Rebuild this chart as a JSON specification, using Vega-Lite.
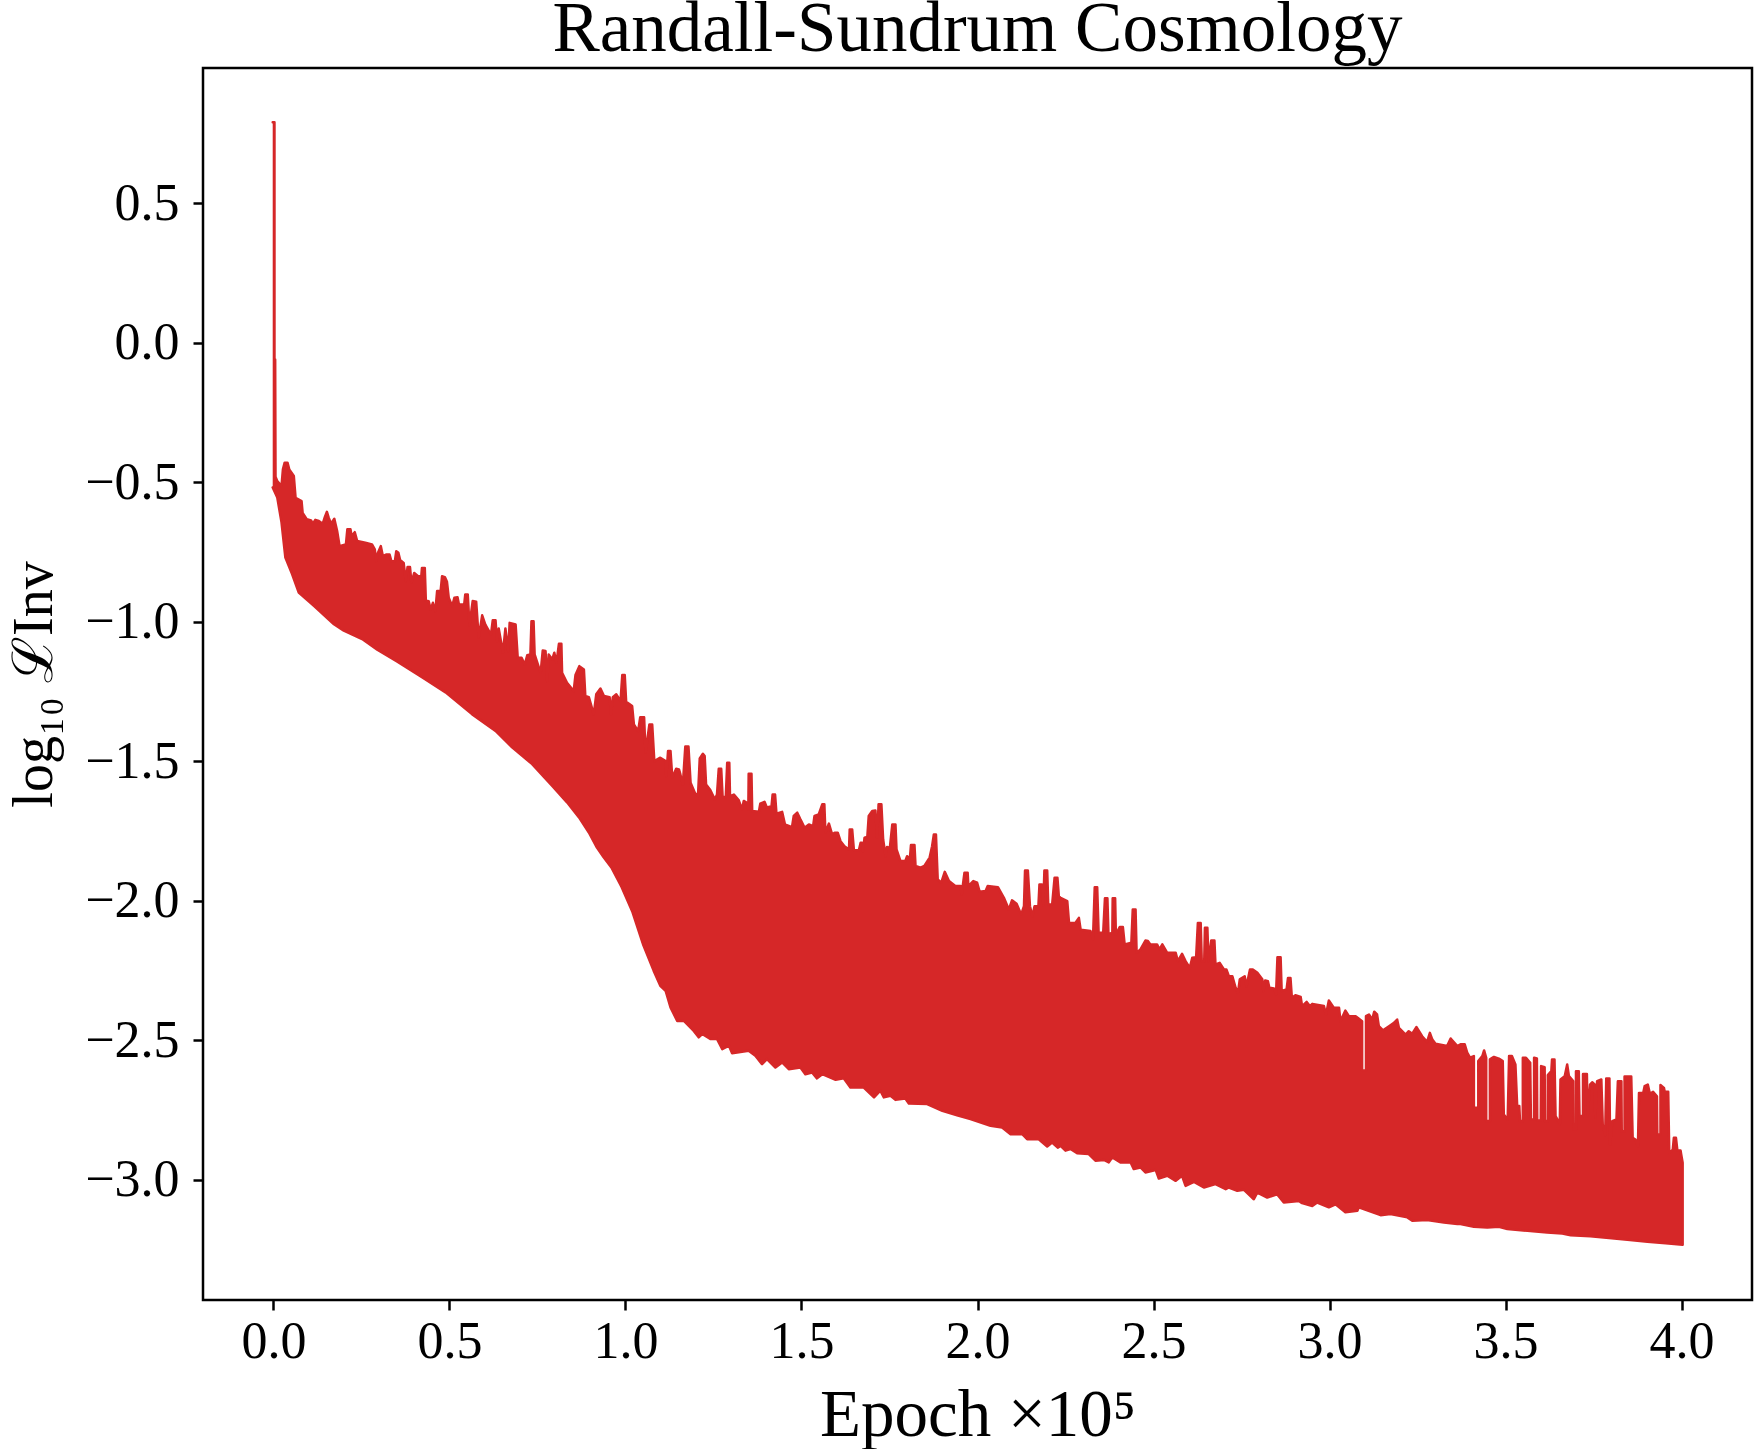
{
  "$schema": "https://vega.github.io/schema/vega-lite/v6.json",
  "title": {"text": "Randall-Sundrum Cosmology", "fontSize": 71, "font": "Liberation Serif", "fontWeight": "normal", "color": "black", "anchor": "middle", "baseline": "alphabetic", "offset": 16, "dy": 70},
  "width": 1549,
  "height": 1232,
  "autosize": {"type": "none"},
  "padding": {"left": 203, "top": 68, "right": 2, "bottom": 149},
  "background": "white",
  "config": {"view": {"stroke": "black", "strokeWidth": 2.5}},
  "data": {"values": [
{"epoch":-0.002,"loss":0.79},{"epoch":0.003,"loss":0.79},{"epoch":0.003,"loss":-0.06},{"epoch":0.005,"loss":-0.06},{"epoch":0.006,"loss":-0.48},
{"epoch":0.011,"loss":-0.496},{"epoch":0.023,"loss":-0.514},{"epoch":0.027,"loss":-0.454},{"epoch":0.032,"loss":-0.43},{"epoch":0.04,"loss":-0.43},{"epoch":0.045,"loss":-0.454},{"epoch":0.058,"loss":-0.478},{"epoch":0.063,"loss":-0.556},{"epoch":0.08,"loss":-0.568},{"epoch":0.083,"loss":-0.61},{"epoch":0.095,"loss":-0.633},{"epoch":0.107,"loss":-0.637},{"epoch":0.112,"loss":-0.649},{"epoch":0.119,"loss":-0.635},{"epoch":0.129,"loss":-0.639},{"epoch":0.14,"loss":-0.649},{"epoch":0.146,"loss":-0.625},{"epoch":0.152,"loss":-0.606},{"epoch":0.157,"loss":-0.627},{"epoch":0.164,"loss":-0.649},{"epoch":0.173,"loss":-0.631},{"epoch":0.181,"loss":-0.675},{"epoch":0.188,"loss":-0.729},{"epoch":0.2,"loss":-0.725},{"epoch":0.206,"loss":-0.723},{"epoch":0.21,"loss":-0.669},{"epoch":0.219,"loss":-0.669},{"epoch":0.222,"loss":-0.693},{"epoch":0.231,"loss":-0.679},{"epoch":0.238,"loss":-0.711},{"epoch":0.261,"loss":-0.717},{"epoch":0.28,"loss":-0.723},{"epoch":0.288,"loss":-0.741},{"epoch":0.292,"loss":-0.783},{"epoch":0.297,"loss":-0.753},{"epoch":0.305,"loss":-0.729},{"epoch":0.311,"loss":-0.765},{"epoch":0.32,"loss":-0.759},{"epoch":0.33,"loss":-0.759},{"epoch":0.335,"loss":-0.783},{"epoch":0.345,"loss":-0.783},{"epoch":0.349,"loss":-0.747},{"epoch":0.355,"loss":-0.753},{"epoch":0.36,"loss":-0.779},{"epoch":0.37,"loss":-0.789},{"epoch":0.376,"loss":-0.854},{"epoch":0.381,"loss":-0.804},{"epoch":0.388,"loss":-0.804},{"epoch":0.392,"loss":-0.86},{"epoch":0.4,"loss":-0.825},{"epoch":0.411,"loss":-0.837},{"epoch":0.42,"loss":-0.837},{"epoch":0.422,"loss":-0.807},{"epoch":0.43,"loss":-0.807},{"epoch":0.433,"loss":-0.924},{"epoch":0.441,"loss":-0.926},{"epoch":0.447,"loss":-0.956},{"epoch":0.453,"loss":-0.932},{"epoch":0.46,"loss":-0.962},{"epoch":0.465,"loss":-0.89},{"epoch":0.475,"loss":-0.89},{"epoch":0.479,"loss":-0.837},{"epoch":0.487,"loss":-0.84},{"epoch":0.493,"loss":-0.857},{"epoch":0.498,"loss":-0.914},{"epoch":0.508,"loss":-0.944},{"epoch":0.514,"loss":-0.914},{"epoch":0.523,"loss":-0.912},{"epoch":0.527,"loss":-0.938},{"epoch":0.542,"loss":-0.938},{"epoch":0.545,"loss":-0.902},{"epoch":0.552,"loss":-0.902},{"epoch":0.557,"loss":-1.012},{"epoch":0.566,"loss":-0.926},{"epoch":0.576,"loss":-0.928},{"epoch":0.583,"loss":-1.057},{"epoch":0.593,"loss":-0.977},{"epoch":0.602,"loss":-1.01},{"epoch":0.618,"loss":-1.046},{"epoch":0.623,"loss":-0.995},{"epoch":0.631,"loss":-0.995},{"epoch":0.635,"loss":-1.069},{"epoch":0.64,"loss":-1.024},{"epoch":0.652,"loss":-1.111},{"epoch":0.659,"loss":-1.024},{"epoch":0.667,"loss":-1.105},{"epoch":0.671,"loss":-1.004},{"epoch":0.688,"loss":-1.01},{"epoch":0.694,"loss":-1.129},{"epoch":0.705,"loss":-1.129},{"epoch":0.714,"loss":-1.153},{"epoch":0.721,"loss":-1.12},{"epoch":0.73,"loss":-1.117},{"epoch":0.733,"loss":-0.998},{"epoch":0.739,"loss":-0.998},{"epoch":0.742,"loss":-1.117},{"epoch":0.759,"loss":-1.183},{"epoch":0.765,"loss":-1.103},{"epoch":0.773,"loss":-1.105},{"epoch":0.778,"loss":-1.213},{"epoch":0.782,"loss":-1.117},{"epoch":0.792,"loss":-1.135},{"epoch":0.798,"loss":-1.111},{"epoch":0.804,"loss":-1.147},{"epoch":0.811,"loss":-1.079},{"epoch":0.818,"loss":-1.079},{"epoch":0.82,"loss":-1.183},{"epoch":0.834,"loss":-1.219},{"epoch":0.853,"loss":-1.248},{"epoch":0.858,"loss":-1.191},{"epoch":0.869,"loss":-1.159},{"epoch":0.882,"loss":-1.171},{"epoch":0.886,"loss":-1.266},{"epoch":0.896,"loss":-1.27},{"epoch":0.91,"loss":-1.332},{"epoch":0.917,"loss":-1.26},{"epoch":0.929,"loss":-1.239},{"epoch":0.939,"loss":-1.266},{"epoch":0.955,"loss":-1.27},{"epoch":0.959,"loss":-1.332},{"epoch":0.964,"loss":-1.27},{"epoch":0.974,"loss":-1.26},{"epoch":0.986,"loss":-1.284},{"epoch":0.991,"loss":-1.191},{"epoch":0.998,"loss":-1.191},{"epoch":1.002,"loss":-1.287},{"epoch":1.019,"loss":-1.302},{"epoch":1.024,"loss":-1.368},{"epoch":1.036,"loss":-1.392},{"epoch":1.042,"loss":-1.342},{"epoch":1.053,"loss":-1.342},{"epoch":1.057,"loss":-1.469},{"epoch":1.068,"loss":-1.368},{"epoch":1.076,"loss":-1.368},{"epoch":1.082,"loss":-1.499},{"epoch":1.099,"loss":-1.487},
{"epoch":1.114,"loss":-1.499},{"epoch":1.116,"loss":-1.553},{"epoch":1.121,"loss":-1.463},{"epoch":1.128,"loss":-1.463},{"epoch":1.133,"loss":-1.559},{"epoch":1.144,"loss":-1.527},{"epoch":1.152,"loss":-1.529},{"epoch":1.156,"loss":-1.547},{"epoch":1.163,"loss":-1.583},{"epoch":1.17,"loss":-1.447},{"epoch":1.179,"loss":-1.447},{"epoch":1.185,"loss":-1.577},{"epoch":1.197,"loss":-1.613},{"epoch":1.206,"loss":-1.625},{"epoch":1.211,"loss":-1.49},{"epoch":1.22,"loss":-1.473},{"epoch":1.225,"loss":-1.481},{"epoch":1.229,"loss":-1.583},{"epoch":1.241,"loss":-1.603},{"epoch":1.254,"loss":-1.637},{"epoch":1.26,"loss":-1.619},{"epoch":1.265,"loss":-1.527},{"epoch":1.272,"loss":-1.527},{"epoch":1.276,"loss":-1.628},{"epoch":1.285,"loss":-1.628},{"epoch":1.289,"loss":-1.505},{"epoch":1.295,"loss":-1.505},{"epoch":1.297,"loss":-1.625},{"epoch":1.308,"loss":-1.619},{"epoch":1.322,"loss":-1.64},{"epoch":1.331,"loss":-1.672},{"epoch":1.336,"loss":-1.642},{"epoch":1.344,"loss":-1.648},{"epoch":1.349,"loss":-1.672},{"epoch":1.35,"loss":-1.545},{"epoch":1.358,"loss":-1.545},{"epoch":1.36,"loss":-1.678},{"epoch":1.379,"loss":-1.681},{"epoch":1.383,"loss":-1.652},{"epoch":1.395,"loss":-1.645},{"epoch":1.402,"loss":-1.666},{"epoch":1.415,"loss":-1.66},{"epoch":1.418,"loss":-1.619},{"epoch":1.425,"loss":-1.619},{"epoch":1.429,"loss":-1.688},{"epoch":1.445,"loss":-1.681},{"epoch":1.453,"loss":-1.726},{"epoch":1.473,"loss":-1.736},{"epoch":1.478,"loss":-1.696},{"epoch":1.488,"loss":-1.684},{"epoch":1.497,"loss":-1.708},{"epoch":1.509,"loss":-1.738},{"epoch":1.521,"loss":-1.726},{"epoch":1.533,"loss":-1.732},{"epoch":1.537,"loss":-1.696},{"epoch":1.549,"loss":-1.69},{"epoch":1.559,"loss":-1.654},{"epoch":1.565,"loss":-1.654},{"epoch":1.568,"loss":-1.756},{"epoch":1.578,"loss":-1.723},{"epoch":1.587,"loss":-1.762},{"epoch":1.594,"loss":-1.756},{"epoch":1.603,"loss":-1.756},{"epoch":1.611,"loss":-1.786},{"epoch":1.622,"loss":-1.804},{"epoch":1.635,"loss":-1.816},{"epoch":1.637,"loss":-1.744},{"epoch":1.644,"loss":-1.744},{"epoch":1.649,"loss":-1.819},{"epoch":1.663,"loss":-1.819},{"epoch":1.668,"loss":-1.792},{"epoch":1.672,"loss":-1.792},{"epoch":1.675,"loss":-1.822},{"epoch":1.679,"loss":-1.774},{"epoch":1.687,"loss":-1.771},{"epoch":1.691,"loss":-1.696},{"epoch":1.701,"loss":-1.678},{"epoch":1.71,"loss":-1.676},{"epoch":1.715,"loss":-1.774},{"epoch":1.719,"loss":-1.654},{"epoch":1.727,"loss":-1.654},{"epoch":1.732,"loss":-1.78},{"epoch":1.739,"loss":-1.84},{"epoch":1.743,"loss":-1.807},{"epoch":1.751,"loss":-1.81},{"epoch":1.758,"loss":-1.726},{"epoch":1.767,"loss":-1.726},{"epoch":1.77,"loss":-1.816},{"epoch":1.781,"loss":-1.857},{"epoch":1.795,"loss":-1.857},{"epoch":1.8,"loss":-1.84},{"epoch":1.808,"loss":-1.848},{"epoch":1.811,"loss":-1.8},{"epoch":1.821,"loss":-1.8},{"epoch":1.824,"loss":-1.875},{"epoch":1.838,"loss":-1.881},{"epoch":1.849,"loss":-1.875},{"epoch":1.864,"loss":-1.845},{"epoch":1.871,"loss":-1.804},{"epoch":1.876,"loss":-1.762},{"epoch":1.882,"loss":-1.762},{"epoch":1.887,"loss":-1.923},{"epoch":1.897,"loss":-1.935},{"epoch":1.907,"loss":-1.896},{"epoch":1.919,"loss":-1.929},{"epoch":1.937,"loss":-1.947},{"epoch":1.952,"loss":-1.947},{"epoch":1.955,"loss":-1.977},{"epoch":1.963,"loss":-1.899},{"epoch":1.972,"loss":-1.899},{"epoch":1.974,"loss":-1.947},{"epoch":1.988,"loss":-1.929},{"epoch":1.999,"loss":-1.935},{"epoch":2.006,"loss":-1.967},{"epoch":2.023,"loss":-1.965},{"epoch":2.029,"loss":-1.947},{"epoch":2.058,"loss":-1.951},{"epoch":2.075,"loss":-1.989},{"epoch":2.089,"loss":-2.031},{"epoch":2.098,"loss":-1.998},{"epoch":2.111,"loss":-2.01},{"epoch":2.124,"loss":-2.049},{"epoch":2.132,"loss":-2.019},{"epoch":2.135,"loss":-1.891},{"epoch":2.143,"loss":-1.891},{"epoch":2.149,"loss":-2.019},{"epoch":2.156,"loss":-2.055},{"epoch":2.162,"loss":-2.019},{"epoch":2.173,"loss":-2.019},{"epoch":2.176,"loss":-1.941},{"epoch":2.183,"loss":-1.941},{"epoch":2.187,"loss":-2.015},{"epoch":2.19,"loss":-1.891},{"epoch":2.198,"loss":-1.891},{"epoch":2.201,"loss":-2.013},{"epoch":2.212,"loss":-2.013},{"epoch":2.219,"loss":-1.917},{"epoch":2.227,"loss":-1.917},{"epoch":2.231,"loss":-1.983},
{"epoch":2.236,"loss":-1.989},{"epoch":2.255,"loss":-2.001},{"epoch":2.26,"loss":-2.079},{"epoch":2.278,"loss":-2.079},{"epoch":2.288,"loss":-2.061},{"epoch":2.293,"loss":-2.103},{"epoch":2.321,"loss":-2.108},{"epoch":2.328,"loss":-2.138},{"epoch":2.333,"loss":-1.951},{"epoch":2.34,"loss":-1.951},{"epoch":2.344,"loss":-2.114},{"epoch":2.357,"loss":-2.114},{"epoch":2.362,"loss":-1.991},{"epoch":2.369,"loss":-1.991},{"epoch":2.372,"loss":-2.12},{"epoch":2.383,"loss":-2.114},{"epoch":2.384,"loss":-1.991},{"epoch":2.391,"loss":-1.991},{"epoch":2.393,"loss":-2.12},{"epoch":2.404,"loss":-2.094},{"epoch":2.413,"loss":-2.094},{"epoch":2.418,"loss":-2.156},{"epoch":2.437,"loss":-2.15},{"epoch":2.441,"loss":-2.031},{"epoch":2.449,"loss":-2.031},{"epoch":2.452,"loss":-2.186},{"epoch":2.463,"loss":-2.174},{"epoch":2.477,"loss":-2.142},{"epoch":2.484,"loss":-2.144},{"epoch":2.491,"loss":-2.156},{"epoch":2.51,"loss":-2.156},{"epoch":2.517,"loss":-2.174},{"epoch":2.525,"loss":-2.156},{"epoch":2.539,"loss":-2.186},{"epoch":2.563,"loss":-2.186},{"epoch":2.569,"loss":-2.216},{"epoch":2.581,"loss":-2.19},{"epoch":2.591,"loss":-2.216},{"epoch":2.603,"loss":-2.24},{"epoch":2.61,"loss":-2.204},{"epoch":2.621,"loss":-2.202},{"epoch":2.626,"loss":-2.079},{"epoch":2.634,"loss":-2.079},{"epoch":2.637,"loss":-2.216},{"epoch":2.644,"loss":-2.216},{"epoch":2.646,"loss":-2.096},{"epoch":2.653,"loss":-2.096},{"epoch":2.656,"loss":-2.216},{"epoch":2.664,"loss":-2.142},{"epoch":2.673,"loss":-2.142},{"epoch":2.676,"loss":-2.228},{"epoch":2.688,"loss":-2.222},{"epoch":2.7,"loss":-2.246},{"epoch":2.707,"loss":-2.246},{"epoch":2.714,"loss":-2.27},{"epoch":2.724,"loss":-2.27},{"epoch":2.733,"loss":-2.311},{"epoch":2.74,"loss":-2.329},{"epoch":2.745,"loss":-2.281},{"epoch":2.759,"loss":-2.27},{"epoch":2.764,"loss":-2.306},{"epoch":2.774,"loss":-2.246},{"epoch":2.782,"loss":-2.246},{"epoch":2.795,"loss":-2.258},{"epoch":2.809,"loss":-2.281},{"epoch":2.812,"loss":-2.323},{"epoch":2.817,"loss":-2.285},{"epoch":2.825,"loss":-2.288},{"epoch":2.829,"loss":-2.311},{"epoch":2.842,"loss":-2.314},{"epoch":2.848,"loss":-2.335},{"epoch":2.852,"loss":-2.202},{"epoch":2.861,"loss":-2.202},{"epoch":2.864,"loss":-2.323},{"epoch":2.878,"loss":-2.317},{"epoch":2.882,"loss":-2.276},{"epoch":2.889,"loss":-2.276},{"epoch":2.893,"loss":-2.347},{"epoch":2.903,"loss":-2.338},{"epoch":2.918,"loss":-2.344},{"epoch":2.922,"loss":-2.377},{"epoch":2.935,"loss":-2.362},{"epoch":2.944,"loss":-2.377},{"epoch":2.951,"loss":-2.369},{"epoch":2.984,"loss":-2.377},{"epoch":2.99,"loss":-2.407},{"epoch":2.998,"loss":-2.357},{"epoch":3.012,"loss":-2.383},{"epoch":3.027,"loss":-2.383},{"epoch":3.031,"loss":-2.431},{"epoch":3.045,"loss":-2.393},{"epoch":3.055,"loss":-2.413},{"epoch":3.074,"loss":-2.413},{"epoch":3.0925,"loss":-2.431},{"epoch":3.0925,"loss":-2.608},{"epoch":3.1035,"loss":-2.608},{"epoch":3.1035,"loss":-2.413},{"epoch":3.112,"loss":-2.407},{"epoch":3.121,"loss":-2.425},{"epoch":3.127,"loss":-2.397},{"epoch":3.135,"loss":-2.407},{"epoch":3.14,"loss":-2.449},{"epoch":3.152,"loss":-2.464},{"epoch":3.169,"loss":-2.449},{"epoch":3.183,"loss":-2.437},{"epoch":3.192,"loss":-2.425},{"epoch":3.197,"loss":-2.455},{"epoch":3.216,"loss":-2.479},{"epoch":3.225,"loss":-2.467},{"epoch":3.235,"loss":-2.476},{"epoch":3.247,"loss":-2.452},{"epoch":3.263,"loss":-2.485},{"epoch":3.277,"loss":-2.505},{"epoch":3.285,"loss":-2.473},{"epoch":3.292,"loss":-2.497},{"epoch":3.301,"loss":-2.512},{"epoch":3.334,"loss":-2.52},{"epoch":3.344,"loss":-2.493},{"epoch":3.363,"loss":-2.52},
{"epoch":3.372,"loss":-2.514},{"epoch":3.384,"loss":-2.514},{"epoch":3.391,"loss":-2.544},{"epoch":3.399,"loss":-2.562},{"epoch":3.41,"loss":-2.556},{"epoch":3.41,"loss":-2.741},{"epoch":3.4225,"loss":-2.741},{"epoch":3.4225,"loss":-2.574},{"epoch":3.434,"loss":-2.556},{"epoch":3.439,"loss":-2.536},{"epoch":3.445,"loss":-2.562},{"epoch":3.445,"loss":-2.789},{"epoch":3.4555,"loss":-2.789},{"epoch":3.4555,"loss":-2.568},{"epoch":3.467,"loss":-2.559},{"epoch":3.481,"loss":-2.565},{"epoch":3.492,"loss":-2.574},{"epoch":3.495,"loss":-2.765},{"epoch":3.506,"loss":-2.783},{"epoch":3.51,"loss":-2.556},{"epoch":3.518,"loss":-2.556},{"epoch":3.528,"loss":-2.586},{"epoch":3.533,"loss":-2.735},{"epoch":3.539,"loss":-2.735},{"epoch":3.541,"loss":-2.789},{"epoch":3.549,"loss":-2.789},{"epoch":3.549,"loss":-2.562},{"epoch":3.558,"loss":-2.562},{"epoch":3.57,"loss":-2.58},{"epoch":3.572,"loss":-2.783},{"epoch":3.581,"loss":-2.783},{"epoch":3.581,"loss":-2.562},{"epoch":3.589,"loss":-2.565},{"epoch":3.59,"loss":-2.787},{"epoch":3.6,"loss":-2.787},{"epoch":3.601,"loss":-2.592},{"epoch":3.611,"loss":-2.596},{"epoch":3.612,"loss":-2.789},{"epoch":3.62,"loss":-2.789},{"epoch":3.62,"loss":-2.624},{"epoch":3.63,"loss":-2.61},{"epoch":3.632,"loss":-2.568},{"epoch":3.639,"loss":-2.568},{"epoch":3.642,"loss":-2.771},{"epoch":3.654,"loss":-2.799},{"epoch":3.656,"loss":-2.64},{"epoch":3.668,"loss":-2.628},{"epoch":3.675,"loss":-2.586},{"epoch":3.68,"loss":-2.628},{"epoch":3.692,"loss":-2.646},{"epoch":3.693,"loss":-2.819},{"epoch":3.7,"loss":-2.819},{"epoch":3.7,"loss":-2.61},{"epoch":3.708,"loss":-2.61},{"epoch":3.71,"loss":-2.771},{"epoch":3.72,"loss":-2.771},{"epoch":3.72,"loss":-2.62},{"epoch":3.731,"loss":-2.62},{"epoch":3.733,"loss":-2.771},{"epoch":3.74,"loss":-2.658},{"epoch":3.746,"loss":-2.65},{"epoch":3.753,"loss":-2.658},{"epoch":3.755,"loss":-2.777},{"epoch":3.76,"loss":-2.646},{"epoch":3.772,"loss":-2.64},{"epoch":3.776,"loss":-2.801},{"epoch":3.783,"loss":-2.839},{"epoch":3.786,"loss":-2.636},{"epoch":3.795,"loss":-2.636},{"epoch":3.797,"loss":-2.873},{"epoch":3.803,"loss":-2.789},{"epoch":3.815,"loss":-2.783},{"epoch":3.819,"loss":-2.646},{"epoch":3.829,"loss":-2.646},{"epoch":3.83,"loss":-2.825},{"epoch":3.838,"loss":-2.825},{"epoch":3.838,"loss":-2.629},{"epoch":3.857,"loss":-2.629},{"epoch":3.861,"loss":-2.849},{"epoch":3.869,"loss":-2.855},{"epoch":3.876,"loss":-2.879},{"epoch":3.879,"loss":-2.688},{"epoch":3.891,"loss":-2.688},{"epoch":3.895,"loss":-2.664},{"epoch":3.904,"loss":-2.658},{"epoch":3.91,"loss":-2.691},{"epoch":3.919,"loss":-2.684},{"epoch":3.93,"loss":-2.7},{"epoch":3.931,"loss":-2.837},{"epoch":3.94,"loss":-2.837},{"epoch":3.94,"loss":-2.66},{"epoch":3.95,"loss":-2.67},{"epoch":3.952,"loss":-2.684},{"epoch":3.962,"loss":-2.684},{"epoch":3.965,"loss":-2.903},{"epoch":3.975,"loss":-2.891},{"epoch":3.978,"loss":-2.849},{"epoch":3.984,"loss":-2.849},{"epoch":3.988,"loss":-2.894},{"epoch":3.997,"loss":-2.894},{"epoch":4,"loss":-2.917},{"epoch":4.003,"loss":-2.938},
{"epoch":4.003,"loss":-3.232},{"epoch":3.955,"loss":-3.227},{"epoch":3.903,"loss":-3.221},{"epoch":3.846,"loss":-3.214},{"epoch":3.794,"loss":-3.208},{"epoch":3.741,"loss":-3.202},{"epoch":3.685,"loss":-3.198},{"epoch":3.661,"loss":-3.192},{"epoch":3.618,"loss":-3.188},{"epoch":3.562,"loss":-3.182},{"epoch":3.505,"loss":-3.176},{"epoch":3.481,"loss":-3.168},{"epoch":3.448,"loss":-3.17},{"epoch":3.41,"loss":-3.168},{"epoch":3.372,"loss":-3.158},
{"epoch":3.363,"loss":-3.158},{"epoch":3.325,"loss":-3.152},{"epoch":3.277,"loss":-3.143},{"epoch":3.235,"loss":-3.146},{"epoch":3.221,"loss":-3.134},{"epoch":3.173,"loss":-3.122},{"epoch":3.145,"loss":-3.126},{"epoch":3.083,"loss":-3.098},{"epoch":3.079,"loss":-3.11},{"epoch":3.045,"loss":-3.116},{"epoch":3.017,"loss":-3.087},{"epoch":2.998,"loss":-3.098},{"epoch":2.965,"loss":-3.081},{"epoch":2.951,"loss":-3.093},{"epoch":2.922,"loss":-3.083},{"epoch":2.913,"loss":-3.075},{"epoch":2.87,"loss":-3.081},{"epoch":2.851,"loss":-3.051},{"epoch":2.823,"loss":-3.063},{"epoch":2.795,"loss":-3.045},{"epoch":2.785,"loss":-3.069},{"epoch":2.757,"loss":-3.035},{"epoch":2.738,"loss":-3.039},{"epoch":2.714,"loss":-3.027},{"epoch":2.705,"loss":-3.033},{"epoch":2.676,"loss":-3.015},{"epoch":2.643,"loss":-3.027},{"epoch":2.615,"loss":-3.007},{"epoch":2.591,"loss":-3.021},{"epoch":2.581,"loss":-2.985},{"epoch":2.563,"loss":-3.003},{"epoch":2.539,"loss":-2.985},{"epoch":2.515,"loss":-2.995},{"epoch":2.506,"loss":-2.964},{"epoch":2.477,"loss":-2.973},{"epoch":2.463,"loss":-2.955},{"epoch":2.444,"loss":-2.961},{"epoch":2.435,"loss":-2.937},{"epoch":2.406,"loss":-2.937},{"epoch":2.383,"loss":-2.919},{"epoch":2.373,"loss":-2.937},{"epoch":2.359,"loss":-2.928},{"epoch":2.335,"loss":-2.931},{"epoch":2.316,"loss":-2.907},{"epoch":2.283,"loss":-2.904},{"epoch":2.264,"loss":-2.889},{"epoch":2.25,"loss":-2.895},{"epoch":2.236,"loss":-2.878},
{"epoch":2.228,"loss":-2.884},{"epoch":2.212,"loss":-2.866},{"epoch":2.198,"loss":-2.88},{"epoch":2.174,"loss":-2.854},{"epoch":2.141,"loss":-2.854},{"epoch":2.127,"loss":-2.836},{"epoch":2.094,"loss":-2.836},{"epoch":2.07,"loss":-2.812},{"epoch":2.037,"loss":-2.806},{"epoch":1.98,"loss":-2.782},{"epoch":1.942,"loss":-2.768},{"epoch":1.9,"loss":-2.752},{"epoch":1.857,"loss":-2.728},{"epoch":1.805,"loss":-2.726},{"epoch":1.795,"loss":-2.708},{"epoch":1.767,"loss":-2.713},{"epoch":1.753,"loss":-2.698},{"epoch":1.734,"loss":-2.704},{"epoch":1.724,"loss":-2.68},{"epoch":1.706,"loss":-2.704},{"epoch":1.677,"loss":-2.669},{"epoch":1.639,"loss":-2.669},{"epoch":1.62,"loss":-2.636},{"epoch":1.597,"loss":-2.641},{"epoch":1.559,"loss":-2.621},{"epoch":1.544,"loss":-2.636},{"epoch":1.53,"loss":-2.615},{"epoch":1.511,"loss":-2.621},{"epoch":1.497,"loss":-2.597},{"epoch":1.464,"loss":-2.603},{"epoch":1.445,"loss":-2.579},{"epoch":1.426,"loss":-2.597},{"epoch":1.402,"loss":-2.567},{"epoch":1.388,"loss":-2.585},{"epoch":1.369,"loss":-2.555},{"epoch":1.35,"loss":-2.537},{"epoch":1.303,"loss":-2.546},{"epoch":1.294,"loss":-2.519},{"epoch":1.275,"loss":-2.531},{"epoch":1.26,"loss":-2.495},{"epoch":1.241,"loss":-2.495},{"epoch":1.218,"loss":-2.477},{"epoch":1.208,"loss":-2.489},{"epoch":1.194,"loss":-2.466},{"epoch":1.166,"loss":-2.43},{"epoch":1.147,"loss":-2.43},{"epoch":1.128,"loss":-2.382},{"epoch":1.114,"loss":-2.322},{"epoch":1.099,"loss":-2.304},
{"epoch":1.08,"loss":-2.25},{"epoch":1.051,"loss":-2.159},{"epoch":1.02,"loss":-2.04},{"epoch":0.989,"loss":-1.95},{"epoch":0.96,"loss":-1.88},{"epoch":0.938,"loss":-1.844},{"epoch":0.919,"loss":-1.809},{"epoch":0.896,"loss":-1.755},{"epoch":0.868,"loss":-1.701},{"epoch":0.834,"loss":-1.647},{"epoch":0.792,"loss":-1.588},{"epoch":0.735,"loss":-1.51},{"epoch":0.678,"loss":-1.45},{"epoch":0.631,"loss":-1.391},{"epoch":0.564,"loss":-1.331},{"epoch":0.489,"loss":-1.253},{"epoch":0.422,"loss":-1.199},{"epoch":0.351,"loss":-1.142},{"epoch":0.295,"loss":-1.1},{"epoch":0.252,"loss":-1.062},{"epoch":0.2,"loss":-1.032},{"epoch":0.172,"loss":-1.009},{"epoch":0.115,"loss":-0.943},{"epoch":0.072,"loss":-0.895},{"epoch":0.053,"loss":-0.829},{"epoch":0.034,"loss":-0.77},{"epoch":0.023,"loss":-0.644},{"epoch":0.011,"loss":-0.555},{"epoch":-0.002,"loss":-0.519}
  ]},
  "mark": {"type": "line", "order": false, "fill": "#d62728", "stroke": "#d62728", "strokeWidth": 2.5, "strokeJoin": "round", "strokeCap": "round"},
  "encoding": {
    "x": {
      "field": "epoch",
      "type": "quantitative",
      "scale": {"domain": [-0.2, 4.2], "nice": false, "zero": false},
      "axis": {
        "title": "Epoch ×10⁵",
        "values": [0, 0.5, 1, 1.5, 2, 2.5, 3, 3.5, 4],
        "format": ".1f",
        "grid": false,
        "domain": false,
        "tickColor": "black",
        "tickSize": 10,
        "tickWidth": 2.5,
        "labelFont": "Liberation Serif",
        "labelFontSize": 52,
        "labelColor": "black",
        "labelPadding": 6,
        "titleFont": "Liberation Serif",
        "titleFontSize": 67,
        "titleFontWeight": "normal",
        "titleColor": "black",
        "titleBaseline": "alphabetic",
        "titleY": 135
      }
    },
    "y": {
      "field": "loss",
      "type": "quantitative",
      "scale": {"domain": [-3.43, 0.984], "nice": false, "zero": false},
      "axis": {
        "title": "log₁₀ ℒInv",
        "values": [-3, -2.5, -2, -1.5, -1, -0.5, 0, 0.5],
        "format": ".1f",
        "grid": false,
        "domain": false,
        "tickColor": "black",
        "tickSize": 10,
        "tickWidth": 2.5,
        "labelFont": "Liberation Serif",
        "labelFontSize": 52,
        "labelColor": "black",
        "labelPadding": 14,
        "titleFont": "Liberation Serif",
        "titleFontSize": 56,
        "titleFontWeight": "normal",
        "titleColor": "black",
        "titleBaseline": "alphabetic",
        "titleAngle": -90,
        "titleX": -152
      }
    }
  }
}
